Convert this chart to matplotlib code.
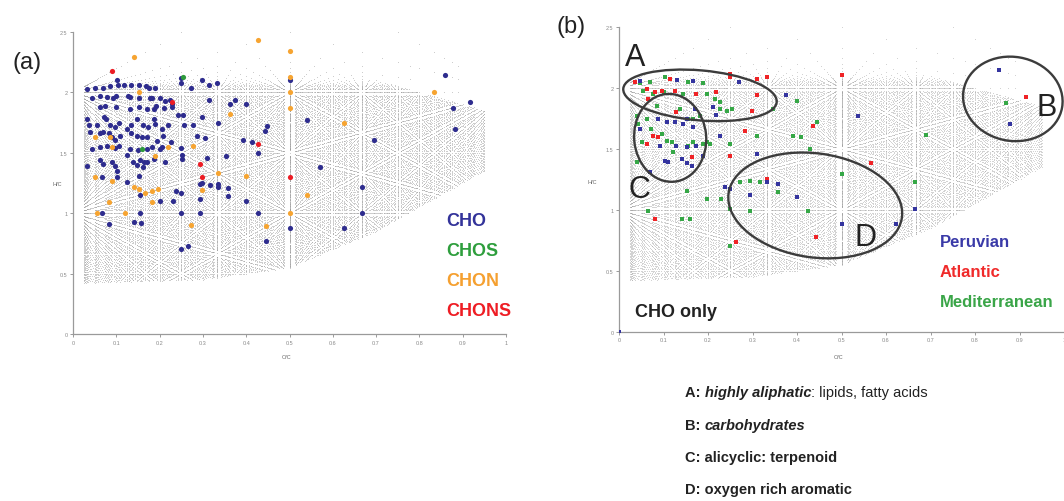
import numpy as np
import matplotlib
matplotlib.use("Agg")
import matplotlib.pyplot as plt
from matplotlib.patches import Ellipse
from matplotlib.transforms import ScaledTranslation

plt.rcParams['font.family'] = ['Liberation Sans', 'DejaVu Sans']

# ---------------------------------------------------------------
# Panel (a): assigned formulas by elemental class (O/C, H/C)
# ---------------------------------------------------------------
cho_a_oc = [0.033, 0.051, 0.069, 0.085, 0.101, 0.105, 0.118, 0.133, 0.153, 0.169, 0.176, 0.190, 0.250, 0.250, 0.273, 0.299, 0.313, 0.333, 0.500, 0.859,
            0.045, 0.062, 0.078, 0.093, 0.099, 0.128, 0.132, 0.152, 0.178, 0.182, 0.201, 0.212, 0.224, 0.228, 0.313, 0.363, 0.374, 0.400, 0.877, 0.917,
            0.062, 0.073, 0.099, 0.132, 0.152, 0.170, 0.187, 0.192, 0.210, 0.228, 0.243, 0.255, 0.299, 0.540, 0.882,
            0.033, 0.038, 0.055, 0.072, 0.076, 0.085, 0.097, 0.107, 0.124, 0.135, 0.147, 0.162, 0.174, 0.188, 0.189, 0.205, 0.220, 0.257, 0.278, 0.334, 0.447, 0.443,
            0.039, 0.062, 0.070, 0.082, 0.089, 0.097, 0.109, 0.135, 0.147, 0.159, 0.170, 0.193, 0.209, 0.226, 0.286, 0.305, 0.392, 0.413, 0.694,
            0.043, 0.062, 0.078, 0.097, 0.107, 0.124, 0.132, 0.151, 0.170, 0.182, 0.201, 0.205, 0.249, 0.251, 0.428,
            0.033, 0.062, 0.070, 0.089, 0.097, 0.102, 0.138, 0.147, 0.155, 0.164, 0.170, 0.186, 0.212, 0.251, 0.309, 0.353, 0.570,
            0.066, 0.101, 0.124, 0.152, 0.162,
            0.293, 0.297, 0.316, 0.336, 0.336, 0.667, 0.359, 0.238, 0.249, 0.155, 0.201, 0.232, 0.293, 0.400, 0.359,
            0.066, 0.082, 0.141, 0.157, 0.155, 0.249, 0.293, 0.428, 0.667, 0.501, 0.626, 0.249, 0.266, 0.446]
cho_a_hc = [2.03, 2.04, 2.04, 2.05, 2.10, 2.06, 2.06, 2.06, 2.06, 2.05, 2.04, 2.04, 2.12, 2.08, 2.04, 2.10, 2.06, 2.08, 2.10, 2.14,
            1.95, 1.97, 1.96, 1.95, 1.97, 1.97, 1.96, 1.95, 1.95, 1.95, 1.95, 1.93, 1.94, 1.90, 1.94, 1.90, 1.94, 1.90, 1.87, 1.92,
            1.88, 1.89, 1.88, 1.86, 1.88, 1.86, 1.86, 1.89, 1.87, 1.88, 1.81, 1.81, 1.80, 1.77, 1.70,
            1.78, 1.73, 1.73, 1.80, 1.78, 1.73, 1.71, 1.75, 1.70, 1.73, 1.78, 1.73, 1.71, 1.78, 1.74, 1.70, 1.73, 1.73, 1.73, 1.75, 1.72, 1.68,
            1.67, 1.66, 1.67, 1.66, 1.63, 1.61, 1.64, 1.66, 1.64, 1.63, 1.63, 1.60, 1.64, 1.59, 1.64, 1.62, 1.61, 1.59, 1.61,
            1.53, 1.55, 1.56, 1.54, 1.56, 1.48, 1.53, 1.52, 1.53, 1.55, 1.53, 1.55, 1.54, 1.48, 1.50,
            1.39, 1.44, 1.41, 1.42, 1.39, 1.35, 1.42, 1.40, 1.44, 1.42, 1.42, 1.45, 1.42, 1.45, 1.46, 1.47, 1.38,
            1.30, 1.30, 1.26, 1.31, 1.38,
            1.24, 1.25, 1.23, 1.24, 1.22, 1.22, 1.21, 1.18, 1.17, 1.15, 1.10, 1.10, 1.12, 1.10, 1.14,
            1.00, 0.91, 0.93, 0.92, 1.00, 1.00, 1.00, 1.00, 1.00, 0.875, 0.875, 0.70, 0.73, 0.77]

chos_a_oc = [0.255, 0.159]
chos_a_hc = [2.13, 1.53]

chon_a_oc = [0.142, 0.428, 0.501, 0.501, 0.501, 0.501, 0.834, 0.153, 0.363, 0.626,
             0.051, 0.085, 0.089, 0.278, 0.220, 0.189, 0.051, 0.089, 0.141, 0.153,
             0.166, 0.182, 0.197, 0.299, 0.336, 0.400, 0.540, 0.082, 0.182, 0.055,
             0.120, 0.272, 0.446, 0.501]
chon_a_hc = [2.29, 2.43, 2.34, 2.125, 2.00, 1.87, 2.00, 2.00, 1.82, 1.75,
             1.63, 1.63, 1.545, 1.554, 1.551, 1.476, 1.297, 1.264, 1.214, 1.20,
             1.164, 1.181, 1.20, 1.195, 1.33, 1.305, 1.151, 1.09, 1.095, 1.00,
             1.00, 0.905, 0.891, 1.00]

chons_a_oc = [0.089, 0.229, 0.428, 0.293, 0.299, 0.501]
chons_a_hc = [2.18, 1.92, 1.57, 1.41, 1.30, 1.30]

# ---------------------------------------------------------------
# Panel (b): CHO formulas by sampling site
# ---------------------------------------------------------------
peru_oc = [0.131, 0.167, 0.270, 0.375, 0.212, 0.219, 0.088, 0.107, 0.126, 0.144,
           0.167, 0.047, 0.227, 0.092, 0.129, 0.152, 0.174, 0.103, 0.111, 0.141,
           0.152, 0.163, 0.189, 0.309, 0.070, 0.238, 0.249, 0.294, 0.358, 0.332,
           0.399, 0.537, 0.500, 0.623, 0.665, 0.854, 0.878, 0.047, 0.171, 0.152, 0.0]
peru_hc = [2.07, 2.06, 2.05, 1.944, 1.843, 1.78, 1.747, 1.72, 1.72, 1.706,
           1.679, 1.665, 1.61, 1.528, 1.528, 1.514, 1.528, 1.405, 1.391, 1.418,
           1.386, 1.364, 1.446, 1.459, 1.309, 1.186, 1.172, 1.123, 1.213, 1.227,
           1.104, 1.774, 0.884, 0.884, 1.008, 2.15, 1.706, 2.06, 1.829, 1.747, 0.0]

atl_oc = [0.036, 0.062, 0.081, 0.115, 0.096, 0.126, 0.174, 0.219, 0.249, 0.249,
          0.332, 0.309, 0.309, 0.298, 0.066, 0.129, 0.077, 0.088, 0.062, 0.163,
          0.283, 0.249, 0.436, 0.500, 0.332, 0.567, 0.081, 0.264, 0.442, 0.914]
atl_hc = [2.054, 1.993, 1.966, 2.076, 1.98, 1.98, 1.952, 1.966, 2.117, 2.089,
          2.089, 2.076, 1.944, 1.815, 1.911, 1.802, 1.61, 1.596, 1.542, 1.432,
          1.651, 1.446, 1.692, 2.11, 1.254, 1.386, 0.926, 0.739, 0.780, 1.925]

med_oc = [0.047, 0.070, 0.103, 0.156, 0.189, 0.055, 0.077, 0.100, 0.144, 0.197,
          0.227, 0.242, 0.253, 0.040, 0.062, 0.043, 0.073, 0.096, 0.107, 0.118,
          0.122, 0.156, 0.167, 0.189, 0.197, 0.204, 0.167, 0.182, 0.156, 0.137,
          0.040, 0.051, 0.152, 0.197, 0.230, 0.249, 0.249, 0.066, 0.141, 0.159,
          0.272, 0.294, 0.317, 0.358, 0.294, 0.425, 0.399, 0.391, 0.410, 0.444,
          0.429, 0.309, 0.347, 0.249, 0.500, 0.665, 0.691, 0.870, 0.227, 0.216, 0.085]
med_hc = [2.04, 2.054, 2.089, 2.054, 2.046, 1.98, 1.952, 1.972, 1.952, 1.952,
          1.884, 1.815, 1.829, 1.774, 1.747, 1.706, 1.665, 1.624, 1.569, 1.555,
          1.473, 1.528, 1.555, 1.542, 1.555, 1.542, 1.747, 1.774, 1.747, 1.829,
          1.391, 1.555, 1.158, 1.09, 1.09, 1.008, 0.707, 0.994, 0.926, 0.926,
          1.227, 1.240, 1.227, 1.145, 0.994, 0.994, 1.898, 1.61, 1.596, 1.720,
          1.501, 1.61, 1.829, 1.542, 1.295, 1.227, 1.616, 1.876, 1.829, 1.911, 1.857]

x_ticks = [0, 0.1, 0.2, 0.3, 0.4, 0.5, 0.6, 0.7, 0.8, 0.9, 1]
x_tick_labels = ["0", "0.1", "0.2", "0.3", "0.4", "0.5", "0.6", "0.7", "0.8", "0.9", "1"]
y_ticks = [0, 0.5, 1, 1.5, 2, 2.5]
y_tick_labels = ["0", "0.5", "1", "1.5", "2", "2.5"]

# Candidate CcHhOo(N) formula space drawn as the grey backdrop
carbon_min, carbon_max = 4, 40
env_oc = [0.0, 0.3, 0.5, 0.7, 0.95]
env_low = [0.42, 0.45, 0.55, 0.85, 1.35]
env_high = [2.45, 2.45, 2.3, 2.1, 1.85]


def formula_space():
    oc_all, hc_all = [], []
    for c in range(carbon_min, carbon_max + 1):
        h, o = np.meshgrid(np.arange(2, 2 * c + 3), np.arange(0, c + 1))
        oc = (o / c).ravel()
        hc = (h / c).ravel()
        low_ok = hc >= np.interp(oc, env_oc, env_low)
        if c >= 10:
            keep = low_ok & (hc <= np.interp(oc, env_oc, env_high)) & (oc <= 0.95)
        else:
            keep = low_ok & (hc <= 2.5) & (oc <= 0.95)
        oc_all.append(oc[keep])
        hc_all.append(hc[keep])
    pts = np.unique(np.round(np.c_[np.concatenate(oc_all), np.concatenate(hc_all)], 5), axis=0)
    return pts[:, 0], pts[:, 1]


bg_oc, bg_hc = formula_space()

W, H = 1064, 502
fig = plt.figure(figsize=(W / 100, H / 100), dpi=100)
fig.patch.set_facecolor('white')

ax_a = fig.add_axes([73 / W, 1 - 335 / H, 433 / W, 302 / H])
ax_b = fig.add_axes([619 / W, 1 - 332.7 / H, 445 / W, 304.4 / H])


def style_axes(ax):
    ax.set_xlim(0, 1)
    ax.set_ylim(0, 2.5)
    for side in ('top', 'right'):
        ax.spines[side].set_visible(False)
    for side in ('left', 'bottom'):
        ax.spines[side].set_color('#9a9a9a')
        ax.spines[side].set_linewidth(0.9)
    ax.set_xticks(x_ticks)
    ax.set_xticklabels(x_tick_labels)
    ax.set_yticks(y_ticks)
    ax.set_yticklabels(y_tick_labels)
    ax.tick_params(labelsize=4, colors='#8a8a8a', length=2, width=0.6, pad=2)
    ax.patch.set_alpha(0)


ax_a.scatter(bg_oc, bg_hc, s=0.45, c='#9a9a9a', linewidths=0, alpha=0.42,
             rasterized=True, zorder=1)
ax_b.scatter(bg_oc, bg_hc, s=0.45, c='#9a9a9a', linewidths=0, alpha=0.36,
             rasterized=True, zorder=1)
for ax in (ax_a, ax_b):
    style_axes(ax)

# Panel (a) classes
ax_a.scatter(cho_a_oc, cho_a_hc, s=14, c='#2e2c8e', linewidths=0, zorder=3)
ax_a.scatter(chos_a_oc, chos_a_hc, s=14, c='#2f9a3c', linewidths=0, zorder=3)
ax_a.scatter(chon_a_oc, chon_a_hc, s=14, c='#f6a431', linewidths=0, zorder=3)
ax_a.scatter(chons_a_oc, chons_a_hc, s=14, c='#ec1c24', linewidths=0, zorder=4)

ax_a.text(-0.037, 0.497, "H/C", transform=ax_a.transAxes, fontsize=4,
          color='#666666', ha='center', va='center')
ax_a.text(0.494, -0.073, "O/C", transform=ax_a.transAxes, fontsize=4,
          color='#666666', ha='center', va='center')

legend_a = [("CHO", '#33339a'), ("CHOS", '#2e9e3d'), ("CHON", '#f5a030'), ("CHONS", '#ee1d24')]
for i, (label, col) in enumerate(legend_a):
    ax_a.text(0.863, 0.938 - 0.2485 * i, label, color=col, fontsize=13,
              fontweight='bold', ha='left', va='center')

# Panel (b) sites
ax_b.scatter(med_oc, med_hc, s=5, marker='s', c='#35a746', linewidths=0, zorder=3)
ax_b.scatter(atl_oc, atl_hc, s=5, marker='s', c='#ef2326', linewidths=0, zorder=3)
ax_b.scatter(peru_oc, peru_hc, s=5, marker='s', c='#34349f', linewidths=0, zorder=3)

ax_b.text(-0.061, 0.495, "H/C", transform=ax_b.transAxes, fontsize=4,
          color='#666666', ha='center', va='center')
ax_b.text(0.494, -0.08, "O/C", transform=ax_b.transAxes, fontsize=4,
          color='#666666', ha='center', va='center')


def ring(ax, cx, cy, w_in, h_in, angle):
    tr = fig.dpi_scale_trans + ScaledTranslation(cx, cy, ax.transData)
    ax.add_patch(Ellipse((0, 0), w_in, h_in, angle=angle, transform=tr, fill=False,
                         ec='#3c3c3c', lw=1.7, zorder=5, clip_on=False))


ring(ax_b, 0.182, 1.941, 1.54, 0.50, -5)
ring(ax_b, 0.115, 1.592, 0.72, 0.88, 5)
ring(ax_b, 0.441, 1.037, 1.75, 1.04, -8)
ring(ax_b, 0.885, 1.912, 1.00, 0.84, -10)

for label, x, y in [("A", 0.037, 2.26), ("B", 0.961, 1.846), ("C", 0.047, 1.173), ("D", 0.555, 0.778)]:
    ax_b.text(x, y, label, fontsize=22, color='#222222', ha='center', va='center',
              zorder=6, clip_on=False)

legend_b = [("Peruvian", '#3a3aa8'), ("Atlantic", '#f02a2a'), ("Mediterranean", '#3aa548')]
for i, (label, col) in enumerate(legend_b):
    ax_b.text(0.721, 0.737 - 0.2465 * i, label, color=col, fontsize=12,
              fontweight='bold', ha='left', va='center', clip_on=False)

ax_b.text(0.036, 0.162, "CHO only", color='#222222', fontsize=13, fontweight='bold',
          ha='left', va='center')

fig.text(27.5 / W, 1 - 63 / H, "(a)", fontsize=17, color='#222222', ha='center', va='center')
fig.text(571 / W, 1 - 27.5 / H, "(b)", fontsize=17, color='#222222', ha='center', va='center')

# Region key under panel (b); each styled run is chained after the previous one
key_lines = [
    [("A: ", 'bold', 'normal'), ("highly aliphatic", 'bold', 'italic'), (": lipids, fatty acids", 'normal', 'normal')],
    [("B: ", 'bold', 'normal'), ("carbohydrates", 'bold', 'italic')],
    [("C: alicyclic: terpenoid", 'bold', 'normal')],
    [("D: oxygen rich aromatic", 'bold', 'normal')],
]
key_y = [393, 426, 458, 490]
for parts, y in zip(key_lines, key_y):
    prev = None
    for text, weight, style in parts:
        if prev is None:
            prev = fig.text(685 / W, 1 - y / H, text, fontsize=10.5, fontweight=weight,
                            fontstyle=style, color='#222222', ha='left', va='center')
        else:
            prev = fig.add_artist(plt.Annotation(
                text, xy=(1, 0), xycoords=prev, fontsize=10.5, fontweight=weight,
                fontstyle=style, color='#222222', ha='left', va='bottom',
                annotation_clip=False))

fig.savefig("out.png", dpi=100, facecolor='white')
